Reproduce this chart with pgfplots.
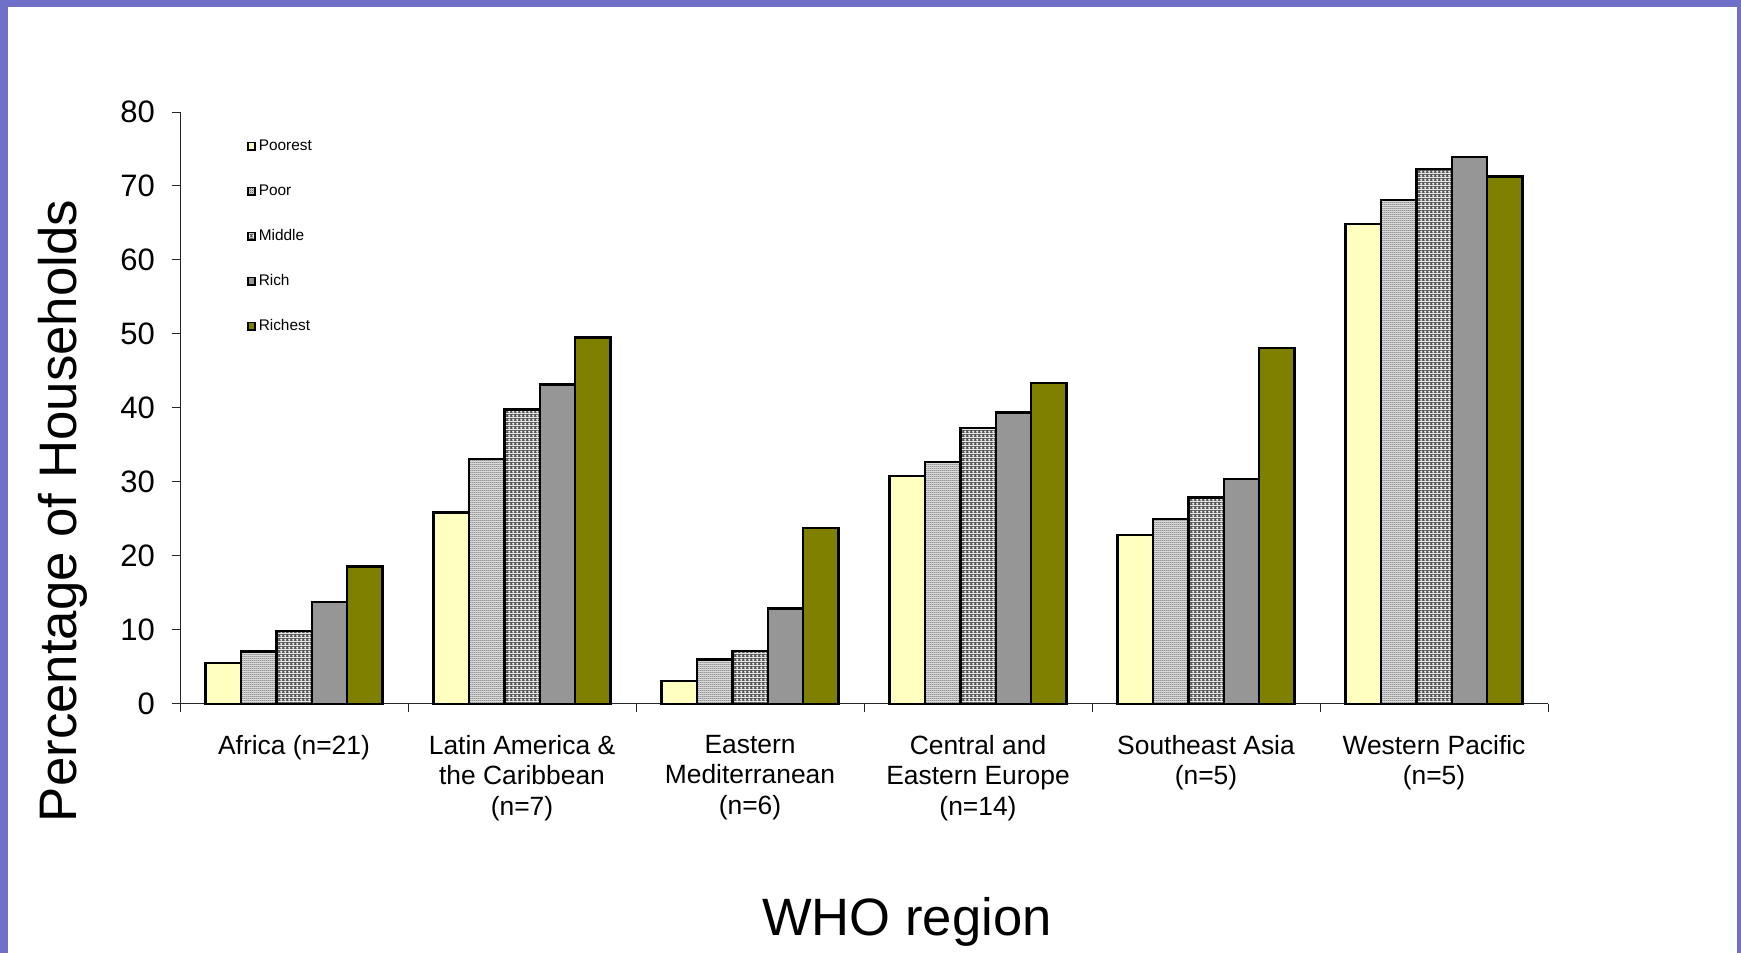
\documentclass[border=0pt]{standalone}
\usepackage{pgfplots}
\usepackage{pgfplotstable}
\pgfplotsset{compat=1.18}
\usepackage{fontspec}
\setmainfont{Liberation Sans}
\usetikzlibrary{patterns}

\definecolor{frame}{RGB}{112,112,200}
\definecolor{poorest}{RGB}{255,255,192}
\definecolor{poorbase}{RGB}{215,215,215}
\definecolor{poordot}{RGB}{110,110,110}
\definecolor{midmesh}{RGB}{85,85,85}
\definecolor{rich}{RGB}{150,150,150}
\definecolor{richest}{RGB}{128,128,0}

% fine grey checker for the "Poor" quintile
\pgfdeclarepatterninherentlycolored{poorpat}{\pgfpointorigin}{\pgfqpoint{1pt}{1pt}}{\pgfqpoint{1pt}{1pt}}{%
  \pgfsetfillcolor{poorbase}%
  \pgfpathrectangle{\pgfpointorigin}{\pgfqpoint{1pt}{1pt}}\pgfusepath{fill}%
  \pgfsetfillcolor{poordot}%
  \pgfpathrectangle{\pgfpointorigin}{\pgfqpoint{0.5pt}{0.5pt}}%
  \pgfpathrectangle{\pgfqpoint{0.5pt}{0.5pt}}{\pgfqpoint{0.5pt}{0.5pt}}\pgfusepath{fill}}

% dark mesh with small white crosses for the "Middle" quintile
\pgfdeclarepatterninherentlycolored{midpat}{\pgfpointorigin}{\pgfqpoint{2pt}{2pt}}{\pgfqpoint{2pt}{2pt}}{%
  \pgfsetfillcolor{midmesh}%
  \pgfpathrectangle{\pgfpointorigin}{\pgfqpoint{2pt}{2pt}}\pgfusepath{fill}%
  \pgfsetfillcolor{white}%
  \pgfpathrectangle{\pgfqpoint{0.5pt}{0pt}}{\pgfqpoint{0.5pt}{1.5pt}}%
  \pgfpathrectangle{\pgfqpoint{0pt}{0.5pt}}{\pgfqpoint{1.5pt}{0.5pt}}\pgfusepath{fill}}

% share of households by wealth quintile, per WHO region (x = category centre)
\pgfplotstableread{
x   poorest poor middle rich richest
0.5  5.5  7.1  9.9 13.8 18.6
1.5 25.9 33.1 39.8 43.2 49.5
2.5  3.1  6.0  7.2 12.9 23.8
3.5 30.8 32.7 37.3 39.4 43.4
4.5 22.8 25.0 27.9 30.4 48.1
5.5 64.9 68.1 72.3 73.9 71.3
}\households

\begin{document}
\begin{tikzpicture}
\path[use as bounding box] (0,0) rectangle (870.5pt,476.5pt);
\fill[white] (0,0) rectangle (870.5pt,476.5pt);
\fill[frame] (0,473pt) rectangle (870.5pt,476.5pt);
\fill[frame] (0,0) rectangle (4pt,476.5pt);
\fill[frame] (868.5pt,0) rectangle (870.5pt,476.5pt);

\begin{axis}[
  at={(90pt,124.5pt)}, anchor=south west,
  scale only axis, width=684pt, height=296pt,
  xmin=0, xmax=6, ymin=0, ymax=80,
  axis x line=bottom, axis y line=left,
  axis line style={-, black!85, line width=0.5pt},
  tick align=outside,
  major tick length=4pt,
  tick style={black!85, line width=0.5pt},
  xtick={0,1,...,6}, xticklabels={},
  extra x ticks={0.5,1.5,2.5,3.5,4.5,5.5},
  extra x tick labels={Africa (n=21), Latin America \&\\the Caribbean\\(n=7),
    Eastern\\Mediterranean\\(n=6), Central and\\Eastern Europe\\(n=14),
    Southeast Asia\\(n=5), Western Pacific\\(n=5)},
  extra x tick style={tick style={draw=none}},
  xticklabel style={align=center, font=\fontsize{13.2}{15.3}\selectfont, yshift=-8pt},
  ytick={0,10,...,80},
  yticklabel style={font=\fontsize{15.5}{18}\selectfont, xshift=-5pt},
  /pgf/number format/assume math mode=true,
  ybar=0pt, bar width=17.7pt,
  every axis plot/.append style={draw=black, line width=1.2pt},
  legend image code/.code={\draw[#1, line width=0.9pt] (0.45pt,-1.8pt) rectangle (4.05pt,1.8pt);},
  legend style={at={(rel axis cs:0.0488,0.955)}, anchor=north west,
    draw=none, fill=none, inner sep=0pt, row sep=15.5pt, column sep=1.3pt,
    font=\fontsize{7.7}{9}\selectfont,
    nodes={inner sep=0pt, text height=5.5pt, text depth=1.5pt},
    cells={anchor=west}},
  legend cell align=left,
  every axis y label/.style={at={(rel axis cs:0,0.326)}, xshift=-58.5pt, rotate=90, anchor=center},
  every axis x label/.style={at={(rel axis cs:0.5314,0)}, yshift=-109pt, anchor=center},
  ylabel={\fontsize{26.4}{30}\selectfont Percentage of Households},
  xlabel={\fontsize{26.3}{30}\selectfont WHO region},
  clip=false,
]
\addplot[fill=poorest] table[x=x, y=poorest] {\households};
\addplot[pattern=poorpat] table[x=x, y=poor] {\households};
\addplot[pattern=midpat] table[x=x, y=middle] {\households};
\addplot[fill=rich] table[x=x, y=rich] {\households};
\addplot[fill=richest] table[x=x, y=richest] {\households};
\legend{Poorest, Poor, Middle, Rich, Richest}
\end{axis}
\end{tikzpicture}
\end{document}
